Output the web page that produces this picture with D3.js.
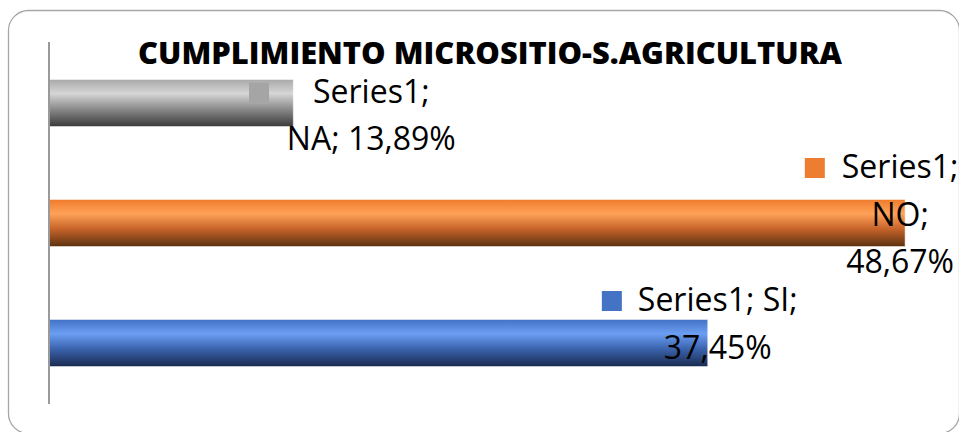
<!DOCTYPE html>
<html>
<head>
<meta charset="utf-8">
<script src="https://cdn.jsdelivr.net/npm/d3@7"></script>
<style>
  body { margin: 0; background: #fff; }
  svg { display: block; }
</style>
</head>
<body>
<script>
  // data
  var categories = ["NA", "NO", "SI"];
  var values = [13.89, 48.67, 37.45];
  var seriesName = "Series1";
  var colors = ["#a5a5a5", "#ed7d31", "#4472c4"];

  // label text lines as Excel wrapped them
  var labelLines = [
    [seriesName + ";", "NA; 13,89%"],
    [seriesName + ";", "NO;", "48,67%"],
    [seriesName + "; SI;", "37,45%"]
  ];

  var w = 959;
  var h = 432;

  var svg = d3.select("body")
      .append("svg")
      .attr("width", w)
      .attr("height", h);

  // chart border
  svg.append("rect")
    .attr("x", 8.5).attr("y", 10.5)
    .attr("width", 951).attr("height", 423)
    .attr("rx", 20).attr("ry", 20)
    .attr("fill", "#fff")
    .attr("stroke", "#a6a6a6")
    .attr("stroke-width", 1.3);

  // gradients like the office "shaded" bar style
  var gradStops = [
    ["#a9a9a9", "#d6d6d6", "#8c8c8c", "#3a3a3a"],
    ["#ef7b2c", "#ffa259", "#c8642a", "#5c3210"],
    ["#4472c4", "#6b9ef3", "#3b64ae", "#1a2a4f"]
  ];
  var defs = svg.append("defs");
  gradStops.forEach(function(s, i) {
    var g = defs.append("linearGradient")
      .attr("id", "grad" + i)
      .attr("x1", 0).attr("y1", 0).attr("x2", 0).attr("y2", 1);
    [0, 0.3, 0.62, 1].forEach(function(o, j) {
      g.append("stop").attr("offset", o).attr("stop-color", s[j]);
    });
  });

  var xScale = d3.scaleLinear()
      .domain([0, 50])
      .range([49, 49 + 50 * 17.59]);

  var yScale = d3.scaleBand()
      .domain(categories)
      .range([43, 403])
      .paddingInner(0.608)
      .paddingOuter(0.304);

  // title
  svg.append("text")
    .attr("x", 490)
    .attr("y", 64)
    .attr("text-anchor", "middle")
    .attr("font-family", "Open Sans")
    .attr("font-weight", "800")
    .attr("font-size", 30)
    .attr("textLength", 704)
    .attr("lengthAdjust", "spacingAndGlyphs")
    .attr("fill", "#000")
    .text("CUMPLIMIENTO MICROSITIO-S.AGRICULTURA");

  // bars
  svg.selectAll(".bar")
    .data(values)
    .enter()
    .append("rect")
    .attr("class", "bar")
    .attr("x", xScale(0))
    .attr("y", function(d, i) { return yScale(categories[i]); })
    .attr("width", function(d) { return xScale(d) - xScale(0); })
    .attr("height", yScale.bandwidth())
    .attr("fill", function(d, i) { return "url(#grad" + i + ")"; })
    .attr("stroke", "rgba(255,255,255,0.5)")
    .attr("stroke-width", 1);

  // vertical category axis (no ticks, no labels)
  var yAxis = d3.axisLeft(yScale).tickSize(0).tickFormat("");
  var gY = svg.append("g")
    .attr("transform", "translate(" + xScale(0) + ",0)")
    .call(yAxis);
  gY.select(".domain")
    .attr("d", "M0,42V404")
    .attr("stroke", "#9a9a9a")
    .attr("stroke-width", 2);

  // data labels: placement offsets relative to bar end / bar centre
  var labelDx = [78, -5, 10];
  var labelDy = [-0.5, -45, -32];
  var markerGap = [64, 37, 36];
  var lineStep = 47.5;

  var labels = svg.selectAll(".lbl")
    .data(values)
    .enter()
    .append("g")
    .attr("class", "lbl");

  labels.each(function(d, i) {
    var g = d3.select(this);
    var cx = xScale(d) + labelDx[i];
    var cy = yScale(categories[i]) + yScale.bandwidth() / 2 + labelDy[i];
    var t = g.append("text")
      .attr("font-family", "Open Sans")
      .attr("font-size", 32)
      .attr("fill", "#000")
      .attr("text-anchor", "middle");
    var first = null;
    labelLines[i].forEach(function(line, j) {
      var ts = t.append("tspan")
        .attr("x", cx)
        .attr("y", cy + j * lineStep)
        .text(line);
      if (j === 0) first = ts;
    });
    var len = first.node().getComputedTextLength();
    var start = cx - len / 2;
    g.append("rect")
      .attr("x", start - markerGap[i])
      .attr("y", cy - 20)
      .attr("width", 20)
      .attr("height", 20)
      .attr("fill", colors[i]);
  });
</script>
</body>
</html>
